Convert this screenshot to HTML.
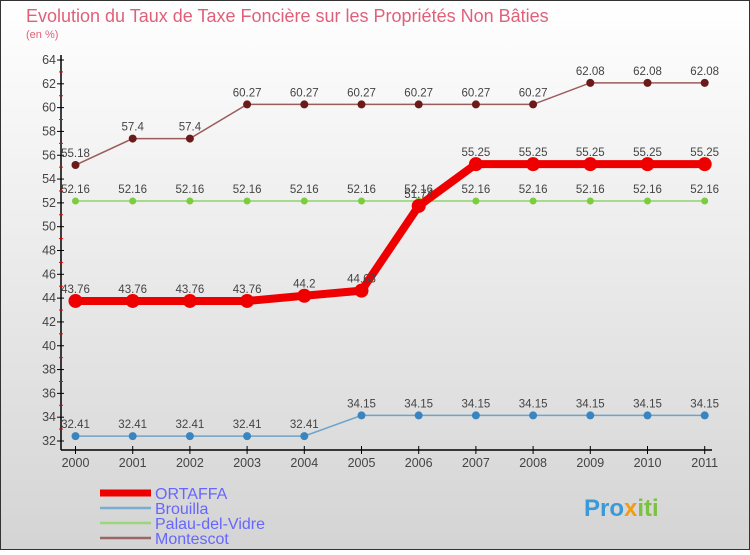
<!DOCTYPE html>
<html><head><meta charset="utf-8"><style>
body{margin:0;width:750px;height:550px;overflow:hidden;font-family:"Liberation Sans",sans-serif}
</style></head><body>
<svg id="chart" width="750" height="550" xmlns="http://www.w3.org/2000/svg">
<defs><linearGradient id="bg" x1="0" y1="0" x2="0" y2="1"><stop offset="0" stop-color="#ffffff"/><stop offset="1" stop-color="#d4d4d4"/></linearGradient></defs>
<rect x="0.5" y="0.5" width="749" height="549" fill="url(#bg)" stroke="#333"/>
<text x="26" y="22" font-size="18" fill="#e0607a">Evolution du Taux de Taxe Foncière sur les Propriétés Non Bâties</text>
<text x="26" y="38" font-size="11" fill="#e0607a">(en %)</text>
<g id="axes"></g><g id="series"></g><g id="legend"></g>
<text x="584" y="516" font-size="24" font-weight="bold" fill="#3a9ad9">Pro<tspan fill="#f39c12">x</tspan><tspan fill="#7cc242">iti</tspan></text>
</svg>
<script>
const years=[2000,2001,2002,2003,2004,2005,2006,2007,2008,2009,2010,2011];
const ortaffa=[43.76,43.76,43.76,43.76,44.2,44.63,51.74,55.25,55.25,55.25,55.25,55.25];
const brouilla=[32.41,32.41,32.41,32.41,32.41,34.15,34.15,34.15,34.15,34.15,34.15,34.15];
const palau=[52.16,52.16,52.16,52.16,52.16,52.16,52.16,52.16,52.16,52.16,52.16,52.16];
const montescot=[55.18,57.4,57.4,60.27,60.27,60.27,60.27,60.27,60.27,62.08,62.08,62.08];
const yTicks=[32,34,36,38,40,42,44,46,48,50,52,54,56,58,60,62,64];
const seriesNames=["ORTAFFA","Brouilla","Palau-del-Vidre","Montescot"];
const NS="http://www.w3.org/2000/svg";
const x=i=>75.5+i*57.2;
const y=v=>441-(v-32)*(381/32);
function mk(tag,attrs,parent,txt){const e=document.createElementNS(NS,tag);for(const k in attrs)e.setAttribute(k,attrs[k]);if(txt!==undefined)e.textContent=txt;parent.appendChild(e);return e;}
const ax=document.getElementById('axes');
let l=mk('line',{x1:61,y1:55,x2:61,y2:450,stroke:'#000','stroke-width':1.5},ax);


l=mk('line',{x1:61,y1:450,x2:712,y2:450,stroke:'#000','stroke-width':1.5},ax);


yTicks.forEach((v,i)=>{
  const t=mk('line',{x1:57,y1:y(v),x2:64,y2:y(v),stroke:'#000'},ax);
  
  
  const lb=mk('text',{x:56,y:y(v)+4,'font-size':12.5,fill:'#444','text-anchor':'end'},ax,String(v));
  
  
  if(i<yTicks.length-1){const m=mk('line',{x1:59,y1:y(v+1),x2:63,y2:y(v+1),stroke:'#e00'},ax);
  
  }
});
years.forEach((yr,i)=>{
  const t=mk('line',{x1:x(i),y1:446,x2:x(i),y2:454,stroke:'#000'},ax);
  
  
  const lb=mk('text',{x:x(i),y:467,'font-size':12.5,fill:'#444','text-anchor':'middle'},ax,String(yr));
  
  
});
const sg=document.getElementById('series');
function draw(data,color,dot,w,r,name){
  const g=mk('g',{},sg);
  
  
  const p=mk('polyline',{points:data.map((v,i)=>x(i)+','+y(v)).join(' '),fill:'none',stroke:color,'stroke-width':w},g);
  
  
  data.forEach((v,i)=>{
    const c=mk('circle',{cx:x(i),cy:y(v),r:r,fill:dot},g);
    
    
    const t=mk('text',{x:x(i),y:y(v)-8,'font-size':11.5,fill:'#444','text-anchor':'middle'},g,String(v));
    
    
  });
}
draw(montescot,'#9b5c5c','#6b1a1a',1.5,4,'montescot');
draw(palau,'#8fd36b','#7ccc40',1.5,3.5,'palau-del-vidre');
draw(brouilla,'#6fa3c8','#3a85c0',1.5,4,'brouilla');
draw(ortaffa,'#ee0000','#ee0000',8,7,'ortaffa');
const lg=document.getElementById('legend');
const lc=['#ee0000','#7aaed0','#9bd67a','#9b6666'],lw=[7,2.5,2.5,2.5];
seriesNames.forEach((n,i)=>{
  const yy=493+i*15;
  const g=mk('g',{},lg);
  
  
  mk('line',{x1:100,y1:yy,x2:151,y2:yy,stroke:lc[i],'stroke-width':lw[i]},g);
  mk('text',{x:155,y:yy+6,'font-size':16,fill:'#6666ff'},g,n);
});
</script>
</body></html>
